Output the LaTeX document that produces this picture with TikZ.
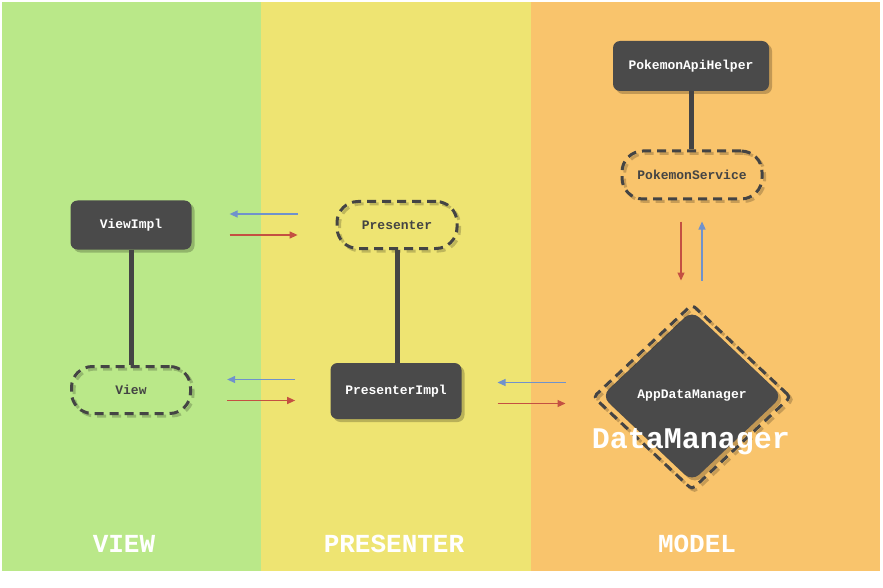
\documentclass[tikz,border=0pt]{standalone}
\usepackage{fontspec}
\setmonofont{Liberation Mono}
\usetikzlibrary{shapes.geometric, arrows.meta, shadows, calc}
\definecolor{viewbg}{RGB}{186, 232, 137}
\definecolor{presenterbg}{RGB}{238, 228, 114}
\definecolor{modelbg}{RGB}{249, 196, 108}
\definecolor{boxfill}{RGB}{74, 74, 74}
\definecolor{linkcol}{RGB}{68, 68, 68}
\definecolor{callcol}{RGB}{196, 80, 66}
\definecolor{backcol}{RGB}{112, 146, 204}
\tikzset{
    every node/.style={font=\ttfamily\bfseries\fontsize{13}{15}\selectfont},
    implbox/.style={rectangle, rounded corners=7pt, fill=boxfill, text=white,
        minimum width=121pt, minimum height=49pt,
        general shadow={shadow xshift=3pt, shadow yshift=-3pt, fill=black, opacity=.22}},
    ifacebox/.style={rectangle, rounded corners=21pt, draw=linkcol, line width=3pt,
        dash pattern=on 9pt off 6pt, text=linkcol, minimum width=119pt, minimum height=47pt,
        general shadow={shadow xshift=2.5pt, shadow yshift=-2.5pt, draw=black, fill=none,
            opacity=.2, line width=3pt, dash pattern=on 9pt off 6pt}},
    link/.style={draw=linkcol, line width=5pt},
    call/.style={draw=callcol, line width=1.2pt, -{Triangle[length=8pt, width=7pt]}},
    back/.style={call, draw=backcol},
    layer/.style={font=\ttfamily\bfseries\fontsize{26}{30}\selectfont, text=white},
}

\begin{document}
\begin{tikzpicture}[x=1pt, y=-1pt]
    \fill[white] (0, 0) rectangle (883, 588);
    \useasboundingbox (0, 0) rectangle (883, 588);
    \fill[viewbg] (2, 2) rectangle (261, 571);
    \fill[presenterbg] (261, 2) rectangle (531, 571);
    \fill[modelbg] (531, 2) rectangle (880, 571);

    \node[implbox] (viewimpl) at (131, 225) {ViewImpl};
    \node[ifacebox] (view) at (131, 390) {View};
    \node[ifacebox, minimum width=120pt] (presenter) at (397, 225) {Presenter};
    \node[implbox, minimum width=131pt, minimum height=56pt] (presenterimpl) at (396, 391) {PresenterImpl};
    \node[implbox, minimum width=156pt, minimum height=50pt] (pokemonapihelper) at (691, 66) {PokemonApiHelper};
    \node[ifacebox, minimum width=140pt, minimum height=48pt] (pokemonservice) at (692, 175) {PokemonService};
    \node[implbox, diamond, aspect=1, inner sep=0pt, rounded corners=10pt,
        minimum width=181pt, minimum height=171pt] (appdatamanager) at (692, 396) {AppDataManager};
    \node[ifacebox, diamond, aspect=1, inner sep=0pt, rounded corners=4pt,
        minimum width=198pt, minimum height=186pt] (datamanager) at (692, 397) {};
    \node[font=\ttfamily\bfseries\fontsize{30}{34}\selectfont, text=white] (datamanagerlabel) at (691, 442) {DataManager};

    \draw[link] (viewimpl.south) -- (view.north);
    \draw[link] (presenter.south) -- (presenter.south |- presenterimpl.north);
    \draw[link] (pokemonapihelper.south) -- (pokemonapihelper.south |- pokemonservice.north);

    \foreach \from/\to in {viewimpl/presenter, view/presenterimpl, presenterimpl/appdatamanager} {
        \coordinate (mid) at ($(\from.east)!.5!(\to.west)$);
        \draw[back] ($(mid)+(34, -11)$) -- ($(mid)+(-34, -11)$);
        \draw[call] ($(mid)+(-34, 10)$) -- ($(mid)+(34, 10)$);
    }
    \coordinate (vmid) at ($(pokemonservice.south)!.5!(datamanager.north)$);
    \draw[call] ($(vmid)+(-11, -30)$) -- ($(vmid)+(-11, 29)$);
    \draw[back] ($(vmid)+(10, 29)$) -- ($(vmid)+(10, -30)$);

    \node[layer] (viewlayer) at (124, 544) {VIEW};
    \node[layer] (presenterlayer) at (394, 544) {PRESENTER};
    \node[layer] (modellayer) at (697, 544) {MODEL};
\end{tikzpicture}
\end{document}
